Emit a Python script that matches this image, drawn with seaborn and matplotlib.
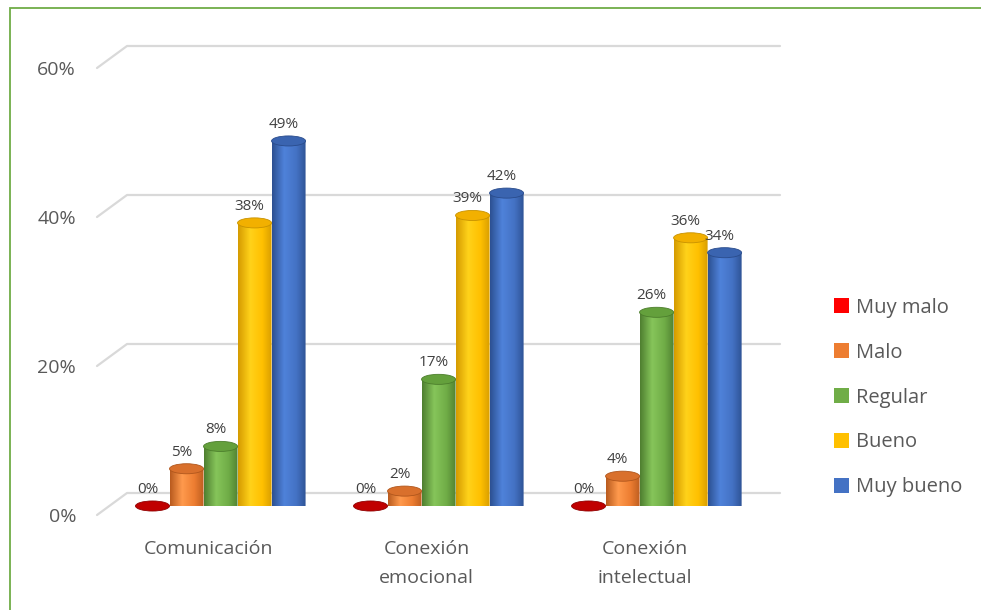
import numpy as np
import pandas as pd
import matplotlib
matplotlib.use("Agg")
import matplotlib.pyplot as plt
import seaborn as sns
from matplotlib.patches import Ellipse, Rectangle, Patch, PathPatch
from matplotlib.path import Path
from matplotlib.colors import LinearSegmentedColormap
from matplotlib.transforms import ScaledTranslation, IdentityTransform
from matplotlib.lines import Line2D

# ---------------- data ----------------
categories = ["Comunicación", "Conexión\nemocional", "Conexión\nintelectual"]
series = ["Muy malo", "Malo", "Regular", "Bueno", "Muy bueno"]
muy_malo = [0, 0, 0]
malo = [5, 2, 4]
regular = [8, 17, 26]
bueno = [38, 39, 36]
muy_bueno = [49, 42, 34]
y_ticks = [0, 20, 40, 60]
y_tick_labels = ["0%", "20%", "40%", "60%"]

# ---------------- style ----------------
legend_colors = ["#FF0000", "#ED7D31", "#70AD47", "#FFC000", "#4472C4"]
body_dark = ["#A00000", "#B85A1E", "#4E7E30", "#D49A00", "#2C5091"]
body_light = ["#FF2A2A", "#FF9A4D", "#86C55A", "#FFD21A", "#4F82DA"]
cap_colors = ["#C00000", "#D9702C", "#64A03C", "#F2B000", "#3A64B0"]
cap_edges = ["#900000", "#B0561C", "#4C7E2C", "#C89200", "#2A4C8C"]
text_gray = "#595959"
grid_gray = "#D9D9D9"

sns.set_theme(style="white")
plt.rcParams["font.family"] = ["Open Sans", "DejaVu Sans"]

W, H = 981, 610
DPI = 100
fig = plt.figure(figsize=(W / DPI, H / DPI), dpi=DPI)
fig.patch.set_facecolor("white")

# axes: x 127..780 px, y bar base 506 px, 60% at 59 px
ax = fig.add_axes([127 / W, (H - 506) / H, 653 / W, 447 / H])
ax.set_facecolor("none")

df = pd.DataFrame({
    "Categoria": categories * len(series),
    "Serie": np.repeat(series, len(categories)),
    "Valor": muy_malo + malo + regular + bueno + muy_bueno,
})

sns.barplot(data=df, x="Categoria", y="Valor", hue="Serie",
            order=categories, hue_order=series,
            palette=dict(zip(series, legend_colors)), saturation=1,
            width=0.78, dodge=True, legend=False, ax=ax, zorder=2)

xlim = (-0.429, 2.566)
ylim = (0, 60)
ax.set_xlim(*xlim)
ax.set_ylim(*ylim)

cap_h = 1.35  # ellipse height in data units (~10 px)

for i, cont in enumerate(ax.containers):
    cmap = LinearSegmentedColormap.from_list(
        f"c{i}", [(0, body_dark[i]), (0.35, body_light[i]),
                  (0.7, legend_colors[i]), (1, body_dark[i])])
    grad = np.linspace(0, 1, 256).reshape(1, -1)
    for rect in cont.patches:
        x0 = rect.get_x()
        w = rect.get_width()
        h = rect.get_height()
        cx = x0 + w / 2
        rect.set_facecolor("none")
        rect.set_edgecolor("none")
        # body + rounded bottom clip path
        t = np.linspace(np.pi, 2 * np.pi, 40)
        arc = np.column_stack([cx + (w / 2) * np.cos(t), (cap_h / 2) * np.sin(t)])
        verts = np.vstack([[x0, h], [x0, 0], arc, [x0 + w, 0], [x0 + w, h], [x0, h]])
        clip = PathPatch(Path(verts), transform=ax.transData, facecolor="none",
                         edgecolor="none")
        ax.add_patch(clip)
        im = ax.imshow(grad, extent=(x0, x0 + w, -cap_h / 2, max(h, 0.01)),
                       aspect="auto", cmap=cmap, origin="lower", zorder=2,
                       interpolation="bilinear")
        im.set_clip_path(clip)
        im.set_clip_on(True)
        # top cap
        ax.add_patch(Ellipse((cx, h), w, cap_h, facecolor=cap_colors[i],
                             edgecolor=cap_edges[i], lw=0.6, zorder=3,
                             clip_on=False))
        ax.annotate(f"{h:.0f}%", (cx, h), xytext=(-5, 9),
                    textcoords="offset pixels", ha="center", va="bottom",
                    fontsize=11, color="#404040", zorder=4)

ax.set_xlim(*xlim)
ax.set_ylim(*ylim)

for s in ax.spines.values():
    s.set_visible(False)
ax.set_xlabel("")
ax.set_ylabel("")
ax.grid(False)

# ticks
ax.set_yticks(y_ticks)
ax.set_yticklabels(y_tick_labels)
ax.tick_params(axis="y", length=0, pad=(127 - 76) * 0.72, labelsize=14,
               labelcolor=text_gray)
ax.tick_params(axis="x", length=0, pad=24.5, labelsize=14, labelcolor=text_gray)
for lab in ax.get_yticklabels():
    lab.set_transform(lab.get_transform() +
                      ScaledTranslation(0, -9 / DPI, fig.dpi_scale_trans))
for lab in ax.get_xticklabels():
    lab.set_linespacing(1.75)
    lab.set_transform(lab.get_transform() +
                      ScaledTranslation(-12 / DPI, 0, fig.dpi_scale_trans))

# 3D-like back wall gridlines + diagonals (pixel space), behind the bars
fig.canvas.draw()
back_up = 13
for v in y_ticks:
    xl, yb = ax.transData.transform((xlim[0], v))
    xr, _ = ax.transData.transform((xlim[1], v))
    yback = yb + back_up
    ln = Line2D([xl - 30, xl, xr], [yback - 22, yback, yback],
                transform=IdentityTransform(), color=grid_gray,
                lw=1.6, zorder=0.5, clip_on=False)
    ax.add_artist(ln)

# legend
handles = [Patch(facecolor=c, edgecolor="none") for c in legend_colors]
fig.legend(handles, series, loc="center left",
           bbox_to_anchor=(834 / W, 1 - 397.5 / H), frameon=False,
           fontsize=14.5, labelcolor=text_gray, handlelength=0.72,
           handleheight=0.72, handletextpad=0.35, labelspacing=1.24,
           borderpad=0, borderaxespad=0)

# outer border
fig.add_artist(Rectangle((9.5 / W, -0.05), 2, (H - 7.5) / H + 0.05,
                         transform=fig.transFigure, fill=False,
                         edgecolor="#70AD47", lw=1.3))

fig.savefig("out.png", dpi=DPI)
